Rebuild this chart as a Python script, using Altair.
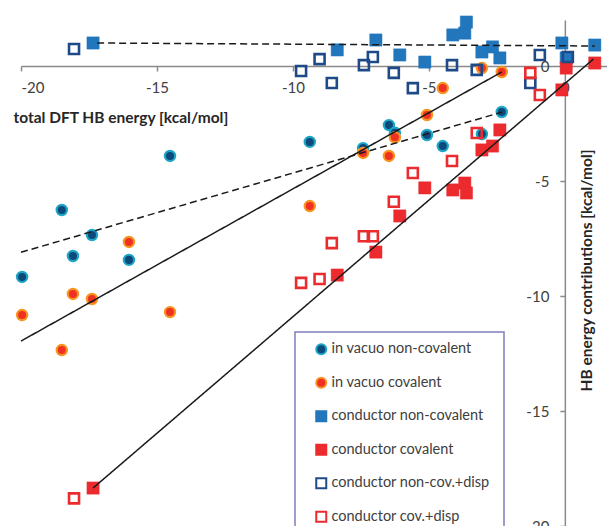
import altair as alt
import pandas as pd

SERIES = [
    "in vacuo  non-covalent",
    "in vacuo  covalent",
    "conductor  non-covalent",
    "conductor  covalent",
    "conductor  non-cov.+disp",
    "conductor  cov.+disp",
]

# in vacuo (shared total energy on x)
vac_x = [-19.96, -18.5, -18.09, -17.39, -16.03, -14.52, -9.38, -7.42, -6.47, -6.25, -5.07, -4.49, -3.05, -2.32]
vac_noncov = [-9.17, -6.26, -8.26, -7.35, -8.43, -3.91, -3.30, -3.57, -2.57, -2.90, -3.00, -3.48, -2.96, -2.00]
vac_cov = [-10.83, -12.35, -9.91, -10.13, -7.65, -10.70, -6.09, -3.78, -3.91, -3.10, -2.13, -0.96, -0.09, -0.26]

# conductor
cond_x = [-17.35, -8.37, -6.95, -6.07, -5.15, -4.12, -3.68, -3.62, -3.05, -2.66, -2.39, -0.11, 0.05, 1.10]
cond_noncov = [1.00, 0.70, 1.13, 0.48, 0.17, 1.35, 1.43, 1.91, 0.61, 0.83, 0.35, 1.00, 0.35, 0.91]
cond_cov = [-18.35, -9.09, -8.09, -6.52, -5.30, -5.39, -5.09, -5.52, -3.65, -3.48, -2.78, -1.04, -0.09, 0.13]

# conductor + dispersion
disp_x = [-18.05, -9.70, -9.02, -8.57, -7.39, -7.06, -6.29, -5.59, -4.15, -3.24, -1.27, -0.92, 0.11]
disp_noncov = [0.74, -0.22, 0.30, -0.74, 0.04, 0.39, -0.30, -0.96, 0.04, -0.17, -0.74, 0.48, 0.39]
disp_cov_x = [-18.05, -9.70, -9.02, -8.57, -7.39, -7.06, -6.29, -5.59, -4.15, -3.24, -1.27, -0.92]
disp_cov = [-18.80, -9.43, -9.26, -7.70, -7.40, -7.40, -5.90, -4.65, -4.13, -2.91, -0.30, -1.26]

# trend lines (endpoints)
trend_name = ["vac_noncov", "vac_cov", "cond_noncov", "cond_cov"]
trend_style = ["dashed", "solid", "dashed", "solid"]
trend_x0 = [-20.0, -20.0, -17.2, -17.35]
trend_x1 = [-2.30, -2.32, 1.10, 1.05]
trend_y0 = [-8.10, -11.96, 1.00, -18.35]
trend_y1 = [-2.00, -0.26, 0.87, 0.30]

TICKS = [-20, -15, -10, -5, 0]

rows = []
for xs, ys, s, kind in [(vac_x, vac_noncov, SERIES[0], "circle"), (vac_x, vac_cov, SERIES[1], "circle"),
                        (cond_x, cond_noncov, SERIES[2], "filled"), (cond_x, cond_cov, SERIES[3], "filled"),
                        (disp_x, disp_noncov, SERIES[4], "open"), (disp_cov_x, disp_cov, SERIES[5], "open")]:
    for xv, yv in zip(xs, ys):
        rows.append({"x": xv, "y": yv, "series": s, "kind": kind})
df = pd.DataFrame(rows)
df["idx"] = range(len(df))

trows = []
for n, st, a, b, c, d in zip(trend_name, trend_style, trend_x0, trend_x1, trend_y0, trend_y1):
    trows.append({"x": a, "y": c, "line": n, "style": st})
    trows.append({"x": b, "y": d, "line": n, "style": st})
tdf = pd.DataFrame(trows)

W, H = 586, 506
XMIN, XMAX = -20, 1.55
YMIN, YMAX = -20, 2
x0px = W * (0 - XMIN) / (XMAX - XMIN)
y0px = H * (YMAX - 0) / (YMAX - YMIN)

FONT = "Lato"
xscale = alt.Scale(domain=[XMIN, XMAX], nice=False, zero=False)
yscale = alt.Scale(domain=[YMIN, YMAX], nice=False, zero=False)

xaxis = alt.Axis(values=TICKS, offset=-(H - y0px), title="total DFT HB energy [kcal/mol]",
                 titleX=-8, titleY=51, titleAlign="left", titleBaseline="middle",
                 labelExpr="datum.value + ''", grid=False, tickSize=5, labelPadding=9)
yaxis = alt.Axis(values=TICKS, offset=-x0px, title="HB energy contributions [kcal/mol]",
                 titleX=22, titleY=250, titleAngle=270, titleAlign="center", titleBaseline="middle",
                 labelExpr="datum.value + ''", grid=False, tickSize=5, labelPadding=11)

SHAPES = ["circle", "circle", "square", "square", "square", "square"]
FILLS = ["#0c4a7c", "#ee3124", "#2176bc", "#ec2b2e", "transparent", "transparent"]
STROKES = ["#1ea5c6", "#f7931e", "#2176bc", "#ec2b2e", "#1f4a88", "#ec2b2e"]

LEG = alt.Legend(title=None, orient="none", legendX=274, legendY=312,
                 labelExpr="datum.label + '\u00a0\u00a0\u00a0\u00a0\u00a0\u00a0\u00a0\u00a0\u00a0\u00a0'")

base = alt.Chart(df).encode(
    x=alt.X("x:Q", scale=xscale, axis=xaxis),
    y=alt.Y("y:Q", scale=yscale, axis=yaxis),
    shape=alt.Shape("series:N", scale=alt.Scale(domain=SERIES, range=SHAPES), legend=LEG),
    fill=alt.Fill("series:N", scale=alt.Scale(domain=SERIES, range=FILLS), legend=LEG),
    stroke=alt.Stroke("series:N", scale=alt.Scale(domain=SERIES, range=STROKES), legend=LEG),
    order=alt.Order("idx:Q"),
)

circles = base.transform_filter(alt.datum.kind == "circle").mark_point(
    opacity=1, fillOpacity=1, size=105, strokeWidth=2.2)
filled = base.transform_filter(alt.datum.kind == "filled").mark_point(
    opacity=1, fillOpacity=1, size=150, strokeWidth=0.5)
opened = base.transform_filter(alt.datum.kind == "open").mark_point(
    opacity=1, fillOpacity=1, size=100, strokeWidth=2.6)

lines = alt.Chart(tdf).mark_line(color="#1a1a1a", strokeWidth=1.5).encode(
    x=alt.X("x:Q", scale=xscale, axis=xaxis),
    y=alt.Y("y:Q", scale=yscale, axis=yaxis),
    detail="line:N",
    strokeDash=alt.StrokeDash("style:N", scale=alt.Scale(domain=["solid", "dashed"], range=[[1, 0], [7, 4]]), legend=None),
)

chart = alt.layer(circles, filled, opened, lines).properties(
    width=W, height=H,
    autosize=alt.AutoSizeParams(type="none"),
    padding={"left": 13, "top": 12, "right": 0, "bottom": 0},
    background="white",
).configure_view(stroke=None).configure_axis(
    domainColor="#8a8a8a", domainWidth=1.5, tickColor="#8a8a8a", tickWidth=1.5,
    labelFont=FONT, labelFontSize=15, labelColor="#404040",
    titleFont=FONT, titleFontSize=15.5, titleFontWeight="bold", titleColor="#262626",
).configure_legend(
    padding=10,
    strokeColor="#7f7fbd", fillColor="white", strokeWidth=1.5,
    labelFont=FONT, labelFontSize=14.5, labelColor="#404040", labelLimit=400,
    rowPadding=14.5, symbolOffset=9, labelOffset=3, symbolSize=100, symbolStrokeWidth=2,
)

chart.save("out.html", embed_options={"renderer": "svg", "actions": False})
